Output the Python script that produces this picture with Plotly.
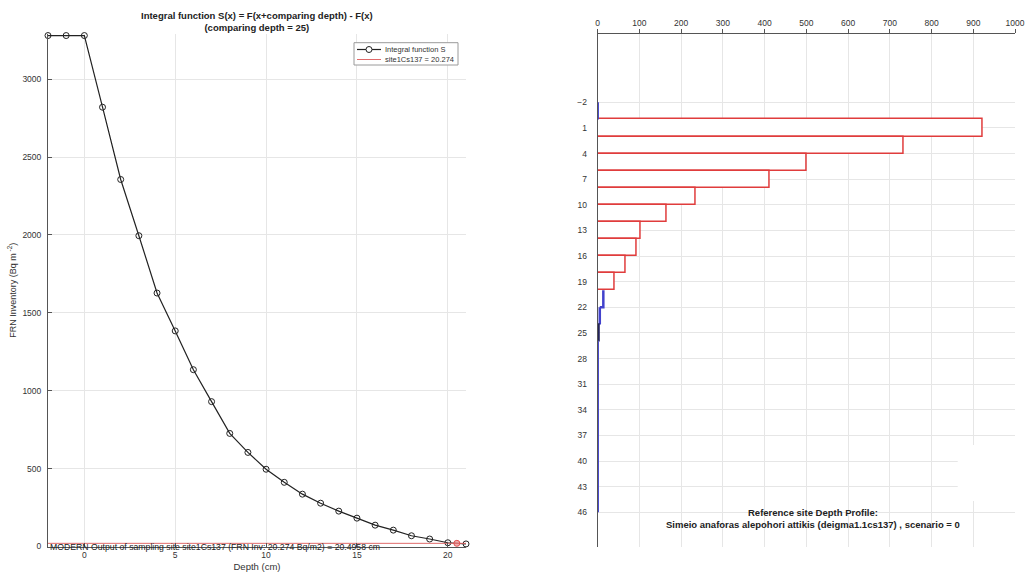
import plotly.graph_objects as go

# ---------------- data ----------------
depth_cm = [-2, -1, 0, 1, 2, 3, 4, 5, 6, 7, 8, 9, 10, 11, 12, 13, 14, 15, 16, 17, 18, 19, 20, 21]
integral_S = [3280, 3280, 3280, 2820, 2356, 1995, 1627, 1384, 1135, 930, 726, 604, 496,
              412, 336, 278, 227, 182, 137, 105, 69, 48, 24, 16.5]
site_inventory = 20.274
modern_depth = 20.4958

layer_top = [0, 2, 4, 6, 8, 10, 12, 14, 16, 18]
layer_thickness = 2
layer_values = [923, 734, 500, 412, 234, 165, 102, 93, 67, 41]

profile_top = [-2, 20, 22]
profile_bottom = [0, 22, 24]
profile_values = [0, 13.5, 5]
tail_top = [24, 26]
tail_bottom = [26, 46]
tail_values = [2, 0]

y_ticks_right = list(range(-2, 47, 3))
x_ticks_right = list(range(0, 1001, 100))
x_ticks_left = [0, 5, 10, 15, 20]
y_ticks_left = [0, 500, 1000, 1500, 2000, 2500, 3000]

legend_labels = ["Integral function S", "site1Cs137 = %g" % site_inventory]

W, H = 1026, 573
FONT = "Arial, Liberation Sans, sans-serif"
GRID = "#e6e6e6"
AX = "#555555"
TXT = "#333333"
BLACK_LINE = "#222222"
RED_LINE = "#e06a6a"
BLUE = "#4242cc"


def px(x):
    return x / W


def py(y):
    return 1 - y / H


def stairs(tops, bottoms, vals):
    xs, ys = [], []
    for t, b, v in zip(tops, bottoms, vals):
        xs += [v, v]
        ys += [t, b]
    return xs, ys


fig = go.Figure()

# ---- left panel ----
fig.add_trace(go.Scatter(
    x=depth_cm, y=integral_S, mode="lines+markers", name=legend_labels[0],
    line=dict(color=BLACK_LINE, width=1.2), cliponaxis=False, showlegend=False,
    marker=dict(symbol="circle-open", size=6, color=BLACK_LINE, line=dict(width=1)),
    xaxis="x", yaxis="y"))
fig.add_trace(go.Scatter(
    x=[depth_cm[0], depth_cm[-1]], y=[site_inventory, site_inventory], mode="lines",
    name=legend_labels[1], showlegend=False,
    line=dict(color=RED_LINE, width=1), xaxis="x", yaxis="y"))
fig.add_trace(go.Scatter(
    x=[modern_depth], y=[site_inventory], mode="markers", showlegend=False,
    cliponaxis=False,
    marker=dict(symbol="circle", size=6, color="rgba(230,120,120,0.6)",
                line=dict(color="#e05050", width=1)),
    xaxis="x", yaxis="y"))

# ---- right panel ----
fig.add_trace(go.Bar(
    y=[t + layer_thickness / 2 for t in layer_top], x=layer_values, width=layer_thickness,
    orientation="h", showlegend=False,
    marker=dict(color="white", line=dict(color="#e03c3c", width=1.5)),
    xaxis="x2", yaxis="y2"))

for i in range(len(profile_top)):
    xs, ys = stairs([profile_top[i]], [profile_bottom[i]], [profile_values[i]])
    if i + 1 < len(profile_top) and profile_bottom[i] == profile_top[i + 1]:
        xs.append(profile_values[i + 1]); ys.append(profile_bottom[i])
    fig.add_trace(go.Scatter(x=xs, y=ys, mode="lines", showlegend=False,
                             line=dict(color=BLUE, width=2.5), cliponaxis=False,
                             xaxis="x2", yaxis="y2"))
xs, ys = stairs(tail_top[:1], tail_bottom[:1], tail_values[:1])
xs = [profile_values[-1]] + xs
ys = [profile_bottom[-1]] + ys
fig.add_trace(go.Scatter(x=xs, y=ys, mode="lines", showlegend=False, cliponaxis=False,
                         line=dict(color="#22225a", width=2.5), xaxis="x2", yaxis="y2"))
xs, ys = stairs(tail_top[1:], tail_bottom[1:], tail_values[1:])
xs = [tail_values[0]] + xs
ys = [tail_bottom[0]] + ys
fig.add_trace(go.Scatter(x=xs, y=ys, mode="lines", showlegend=False, cliponaxis=False,
                         line=dict(color=BLUE, width=2.5), xaxis="x2", yaxis="y2"))

axis_common = dict(showgrid=True, gridcolor=GRID, gridwidth=1, zeroline=False,
                   showline=True, linecolor=AX, linewidth=1,
                   tickfont=dict(family=FONT, size=8.5, color=TXT), automargin=False)

# ---- legend box (drawn) ----
lx0, lx1, ly0, ly1 = 354, 458, 42.7, 65
row_y = [49.5, 59.5]
shapes = [
    dict(type="rect", xref="paper", yref="paper", x0=px(lx0), x1=px(lx1),
         y0=py(ly1), y1=py(ly0), fillcolor="white", line=dict(color="#9a9a9a", width=1),
         layer="above"),
    dict(type="line", xref="paper", yref="paper", x0=px(357), x1=px(381),
         y0=py(row_y[0]), y1=py(row_y[0]), line=dict(color=BLACK_LINE, width=1.2),
         layer="above"),
    dict(type="circle", xref="paper", yref="paper", x0=px(366), x1=px(372),
         y0=py(row_y[0] + 3), y1=py(row_y[0] - 3), fillcolor="white",
         line=dict(color=BLACK_LINE, width=1), layer="above"),
    dict(type="line", xref="paper", yref="paper", x0=px(357), x1=px(381),
         y0=py(row_y[1]), y1=py(row_y[1]), line=dict(color=RED_LINE, width=1),
         layer="above"),
    dict(type="rect", xref="paper", yref="paper", x0=px(957.7), x1=px(1022),
         y0=py(501), y1=py(445), fillcolor="white", line=dict(width=0), layer="above"),
]

annotations = [
    dict(text="<b>Integral function S(x) = F(x+comparing depth) - F(x)</b><br>"
              "<b>(comparing depth = 25)</b>",
         x=px(257), y=py(21.5), xref="paper", yref="paper", showarrow=False,
         xanchor="center", yanchor="middle", font=dict(size=9.5, color="#222222")),
    dict(text="MODERN Output of sampling site site1Cs137 (FRN Inv: %g Bq/m2) = %g cm"
              % (site_inventory, modern_depth),
         x=px(48), y=py(547), xref="paper", yref="paper", showarrow=False,
         xanchor="left", yanchor="middle", font=dict(size=8.7, color="#222222")),
    dict(text="<b>Reference site Depth Profile:</b><br>"
              "<b>Simeio anaforas alepohori attikis (deigma1.1cs137) , scenario = 0</b>",
         x=px(813), y=py(518), xref="paper", yref="paper", showarrow=False,
         xanchor="center", yanchor="middle", font=dict(size=9.5, color="#222222")),
]
for lbl, ry in zip(legend_labels, row_y):
    annotations.append(dict(text=lbl, x=px(383), y=py(ry), xref="paper", yref="paper",
                            showarrow=False, xanchor="left", yanchor="middle",
                            font=dict(size=7.5, color=TXT)))

fig.update_layout(
    width=W, height=H, margin=dict(l=0, r=0, t=0, b=0),
    paper_bgcolor="white", plot_bgcolor="white",
    font=dict(family=FONT, color=TXT),
    bargap=0, showlegend=False,
    xaxis=dict(domain=[px(48), px(466)], range=[-2, 21], tickvals=x_ticks_left,
               ticks="inside", ticklen=4, tickcolor=AX, anchor="y",
               title=dict(text="Depth (cm)", font=dict(size=9.5, color=TXT), standoff=4),
               **axis_common),
    yaxis=dict(domain=[py(546.5), py(34)], range=[0, 3290], tickvals=y_ticks_left,
               ticks="inside", ticklen=4, tickcolor=AX, anchor="x", ticklabelstandoff=4,
               title=dict(text="FRN Inventory (Bq m<sup> -2</sup>)",
                          font=dict(size=9, color=TXT), standoff=4),
               **axis_common),
    xaxis2=dict(domain=[px(597.7), px(1015)], range=[0, 1000], tickvals=x_ticks_right,
                side="top", ticks="outside", ticklen=4, tickcolor=AX, anchor="y2",
                **axis_common),
    yaxis2=dict(domain=[py(546.5), py(34)], range=[50, -10], tickvals=y_ticks_right,
                ticks="", anchor="x2", ticklabelstandoff=8,
                **axis_common),
    shapes=shapes,
    annotations=annotations,
)

fig.write_html("out.html")
